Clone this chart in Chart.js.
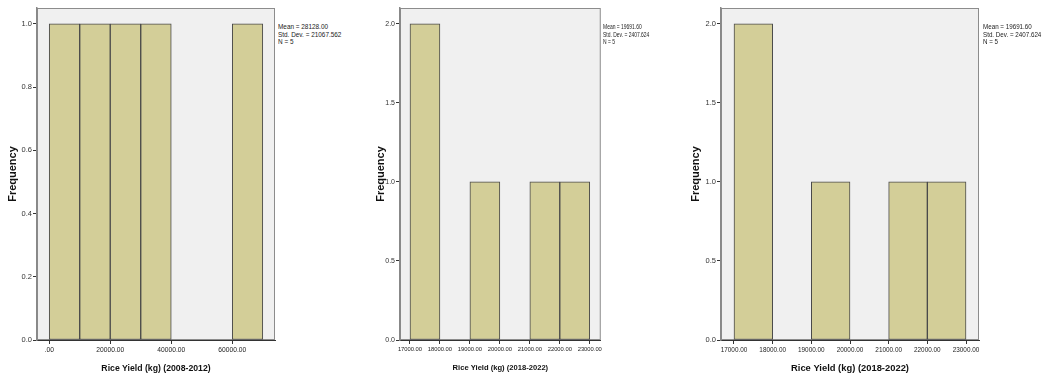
<!DOCTYPE html>
<html>
<head>
<meta charset="utf-8">
<script src="https://cdn.jsdelivr.net/npm/chart.js@4.4.0/dist/chart.umd.min.js"></script>
<style>
body { margin: 0; background: #fff; width: 1046px; height: 380px; position: relative; overflow: hidden; font-family: "Liberation Sans", Arial, sans-serif; }
.panel { position: absolute; top: 0; height: 380px; }
.stats { position: absolute; top: 23px; font-size: 8px; line-height: 7.6px; color: #222; white-space: nowrap; transform-origin: left top; }
</style>
</head>
<body>
<div class="panel" style="left:0;width:278px"><canvas id="hist1"></canvas></div>
<div class="panel" style="left:370px;width:234px"><canvas id="hist2"></canvas></div>
<div class="panel" style="left:685px;width:297px"><canvas id="hist3"></canvas></div>
<div class="stats" id="stats1" style="left:278px;transform:scaleX(0.8)"></div>
<div class="stats" id="stats2" style="left:603px;transform:scaleX(0.62)"></div>
<div class="stats" id="stats3" style="left:983px;transform:scaleX(0.78)"></div>
<script>
// panel 1: 2008-2012
const binWidth1 = 10000;
const binStarts1 = [0, 10000, 20000, 30000, 40000, 50000, 60000];
const counts1 = [1, 1, 1, 1, 0, 0, 1];
const xTicks1 = [0, 20000, 40000, 60000];
const yTicks1 = [0, 0.2, 0.4, 0.6, 0.8, 1.0];
const stats1 = ['Mean = 28128.00', 'Std. Dev. = 21067.562', 'N = 5'];
const xTitle1 = 'Rice Yield (kg) (2008-2012)';

// panel 2: 2018-2022
const binWidth2 = 1000;
const binStarts2 = [17000, 18000, 19000, 20000, 21000, 22000];
const counts2 = [2, 0, 1, 0, 1, 1];
const xTicks2 = [17000, 18000, 19000, 20000, 21000, 22000, 23000];
const yTicks2 = [0, 0.5, 1.0, 1.5, 2.0];
const stats2 = ['Mean = 19691.60', 'Std. Dev. = 2407.624', 'N = 5'];
const xTitle2 = 'Rice Yield (kg) (2018-2022)';

// panel 3: 2018-2022 (same data again)
const binWidth3 = 1000;
const binStarts3 = [17000, 18000, 19000, 20000, 21000, 22000];
const counts3 = [2, 0, 1, 0, 1, 1];
const xTicks3 = [17000, 18000, 19000, 20000, 21000, 22000, 23000];
const yTicks3 = [0, 0.5, 1.0, 1.5, 2.0];
const stats3 = ['Mean = 19691.60', 'Std. Dev. = 2407.624', 'N = 5'];
const xTitle3 = 'Rice Yield (kg) (2018-2022)';

Chart.defaults.font.family = '"Liberation Sans", Arial, sans-serif';
Chart.defaults.color = '#222';

const framePlugin = {
  id: 'frame',
  beforeDraw(chart) {
    const { ctx, chartArea: a } = chart;
    ctx.save();
    ctx.fillStyle = '#F0F0F0';
    ctx.fillRect(a.left, a.top, a.width, a.height);
    ctx.strokeStyle = '#8C8C8C';
    ctx.lineWidth = 1;
    ctx.strokeRect(a.left + 0.5, a.top + 0.5, a.width - 1, a.height - 1);
    ctx.restore();
  }
};

function histogram(id, starts, counts, width, xTicks, yTicks, xTitle, cfg) {
  const points = [];
  starts.forEach((s, i) => {
    if (counts[i] > 0) points.push({ x: s + width / 2, y: counts[i] });
  });
  return new Chart(document.getElementById(id), {
    type: 'bar',
    data: {
      datasets: [{
        data: points,
        backgroundColor: '#D3CE98',
        borderColor: '#4A4A4A',
        borderWidth: 1,
        borderSkipped: false,
        barPercentage: 1,
        categoryPercentage: 1
      }]
    },
    options: {
      responsive: true,
      maintainAspectRatio: false,
      animation: false,
      layout: { padding: { left: 0, top: 8, right: 3, bottom: 0 } },
      plugins: { legend: { display: false }, tooltip: { enabled: false } },
      scales: {
        x: {
          type: 'linear',
          min: cfg.xMin,
          max: cfg.xMax,
          offset: false,
          afterBuildTicks: s => { s.ticks = xTicks.map(v => ({ value: v })); },
          afterFit: s => { s.height = 40; },
          ticks: {
            autoSkip: false, maxRotation: 0, padding: 2, color: '#222',
            font: { size: cfg.xTick },
            callback: v => v === 0 ? '.00' : v.toFixed(2)
          },
          grid: { display: true, drawOnChartArea: false, offset: false, tickLength: 4, tickColor: '#333' },
          border: { color: '#333', width: 1 },
          title: {
            display: true, text: xTitle, color: '#111',
            font: { size: cfg.xTitle, weight: 'bold' },
            padding: { top: 0, bottom: cfg.xTitlePad }
          }
        },
        y: {
          min: 0,
          max: cfg.yMax,
          afterBuildTicks: s => { s.ticks = yTicks.map(v => ({ value: v })); },
          afterFit: s => { s.width = cfg.yWidth; },
          ticks: { padding: 1, color: '#333', font: { size: cfg.yTick }, callback: v => v.toFixed(1) },
          grid: { display: true, drawOnChartArea: false, tickLength: 4, tickColor: '#333' },
          border: { color: '#888', width: 1.5 },
          title: {
            display: true, text: 'Frequency', color: '#111',
            font: { size: 11, weight: 'bold' },
            padding: { top: cfg.yTitlePad, bottom: 0 }
          }
        }
      }
    },
    plugins: [framePlugin]
  });
}

function fillStats(id, lines) {
  document.getElementById(id).innerHTML = lines.join('<br>');
}

histogram('hist1', binStarts1, counts1, binWidth1, xTicks1, yTicks1, xTitle1,
  { xMin: -4000, xMax: 74000, yMax: 1.05, yWidth: 37, xTick: 6.7, yTick: 7.5, xTitle: 8.7, xTitlePad: 6.5, yTitlePad: 6.4 });
histogram('hist2', binStarts2, counts2, binWidth2, xTicks2, yTicks2, xTitle2,
  { xMin: 16667, xMax: 23367, yMax: 2.1, yWidth: 30, xTick: 5.8, yTick: 7, xTitle: 7.6, xTitlePad: 7.2, yTitlePad: 4.4 });
histogram('hist3', binStarts3, counts3, binWidth3, xTicks3, yTicks3, xTitle3,
  { xMin: 16664, xMax: 23336, yMax: 2.1, yWidth: 36, xTick: 6.4, yTick: 7.5, xTitle: 9.4, xTitlePad: 6.2, yTitlePad: 4.4 });

fillStats('stats1', stats1);
fillStats('stats2', stats2);
fillStats('stats3', stats3);
</script>
</body>
</html>
